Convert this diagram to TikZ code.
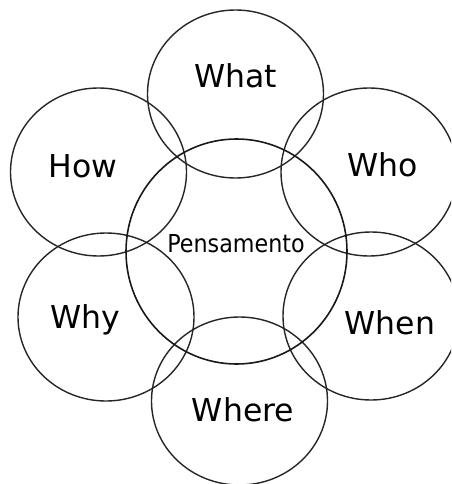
\documentclass[tikz,border=0pt]{standalone}
\usepackage{fontspec}
\setmainfont{DejaVu Sans}
\newfontfamily\condfont{DejaVu Sans}[FakeStretch=0.9]
\usetikzlibrary{shapes.geometric}
\begin{document}
\begin{tikzpicture}[x=1pt,y=-1pt,
  ring/.style={draw=black!85,line width=1.4pt,ellipse,inner sep=0pt,minimum width=176pt,minimum height=168pt},
  core/.style={draw=black!90,line width=1.6pt,ellipse,inner sep=0pt,minimum width=221pt,minimum height=225pt},
  lbl/.style={anchor=base,inner sep=0pt,font=\fontsize{31.5}{36}\selectfont},
  corelbl/.style={anchor=base,inner sep=0pt,font=\condfont\fontsize{24.7}{28}\selectfont}]
\useasboundingbox (0,0) rectangle (451,484);
\clip (0,0) rectangle (451,484);
\node[ring] (cwhat) at (235.5,94) {};
\node[ring] (chow) at (98.5,172) {};
\node[ring] (cwho) at (369,172) {};
\node[ring] (cwhy) at (106,317) {};
\node[ring] (cwhen) at (371,316) {};
\node[ring] (cwhere) at (239.5,401) {};
\node[core] (ccore) at (236.5,251.5) {};
\node[lbl] (twhat) at (235.5,88) {What};
\node[lbl] (thow) at (83,177) {How};
\node[lbl] (twho) at (383,176) {Who};
\node[lbl] (twhy) at (85.5,328) {Why};
\node[lbl] (twhen) at (390,334) {When};
\node[lbl] (twhere) at (243,421) {Where};
\node[corelbl] (tcore) at (236,252) {Pensamento};
\end{tikzpicture}
\end{document}
